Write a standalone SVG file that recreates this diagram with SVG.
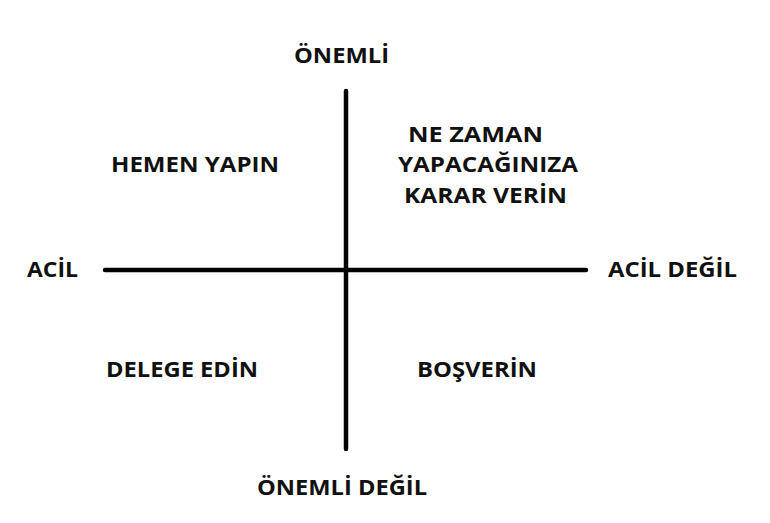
<svg xmlns="http://www.w3.org/2000/svg" width="770" height="523" viewBox="0 0 770 523">
<style>
text{font-family:"Open Sans","Noto Sans","Liberation Sans",sans-serif;font-weight:700;font-size:22px;fill:#111;}
.ax{stroke:#000;stroke-width:4.5;stroke-linecap:round;fill:none;}
</style>
<rect width="770" height="523" fill="#fff"/>
<g id="connectors">
<line class="ax" x1="346" y1="91" x2="346" y2="449"/>
<line class="ax" x1="105" y1="270" x2="586" y2="270"/>
</g>
<g id="onemli"><text x="294" y="63" textLength="95" lengthAdjust="spacingAndGlyphs">ÖNEMLİ</text></g>
<g id="onemli-degil"><text x="257" y="495" textLength="170" lengthAdjust="spacingAndGlyphs">ÖNEMLİ DEĞİL</text></g>
<g id="acil"><text x="27" y="277" textLength="51" lengthAdjust="spacingAndGlyphs">ACİL</text></g>
<g id="acil-degil"><text x="608" y="277" textLength="129" lengthAdjust="spacingAndGlyphs">ACİL DEĞİL</text></g>
<g id="hemen-yapin"><text x="111" y="172" textLength="168" lengthAdjust="spacingAndGlyphs">HEMEN YAPIN</text></g>
<g id="ne-zaman">
<text x="408" y="142" textLength="135" lengthAdjust="spacingAndGlyphs">NE ZAMAN</text>
<text x="398" y="172" textLength="180" lengthAdjust="spacingAndGlyphs">YAPACAĞINIZA</text>
<text x="404" y="203" textLength="163" lengthAdjust="spacingAndGlyphs">KARAR VERİN</text>
</g>
<g id="delege-edin"><text x="106" y="377" textLength="152" lengthAdjust="spacingAndGlyphs">DELEGE EDİN</text></g>
<g id="bosverin"><text x="417" y="377" textLength="120" lengthAdjust="spacingAndGlyphs">BOŞVERİN</text></g>
</svg>
